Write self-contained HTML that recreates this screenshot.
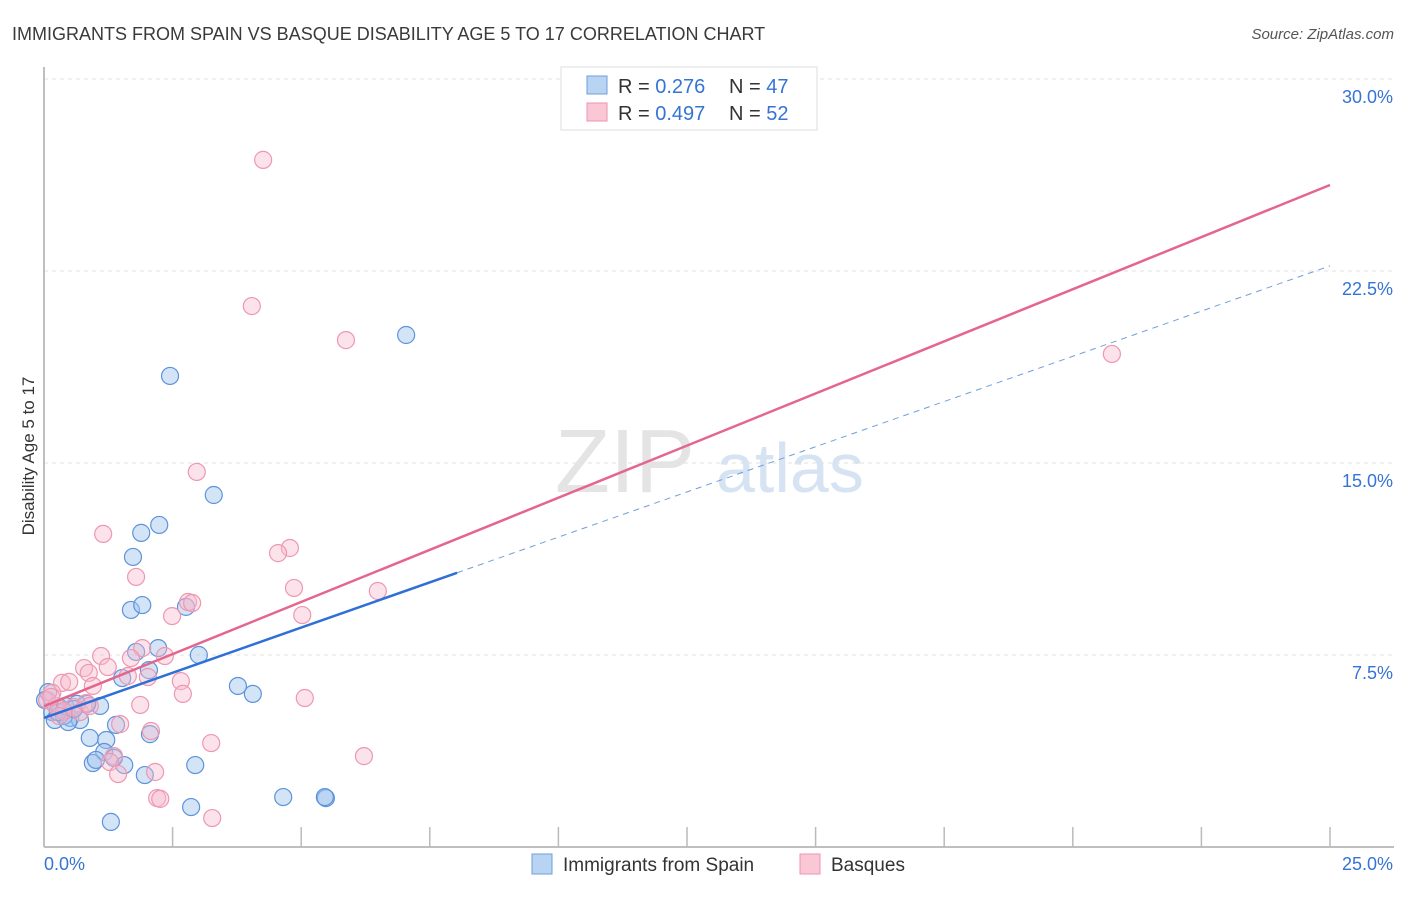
<!DOCTYPE html>
<html><head><meta charset="utf-8"><style>
body{margin:0;background:#fff;font-family:"Liberation Sans",sans-serif}
svg text{font-family:"Liberation Sans",sans-serif}
</style></head><body>
<svg id="chart" width="1406" height="892">
<text x="12" y="40" font-size="18" fill="#3a3a3a">IMMIGRANTS FROM SPAIN VS BASQUE DISABILITY AGE 5 TO 17 CORRELATION CHART</text>
<text x="1394" y="39" font-size="15" fill="#555" text-anchor="end" font-style="italic">Source: ZipAtlas.com</text>
<text x="34" y="456" font-size="17" fill="#333" text-anchor="middle" transform="rotate(-90 34 456)">Disability Age 5 to 17</text>
<g><text x="555" y="492" font-size="90" fill="#e4e4e4" font-family="Liberation Serif,serif">ZIP</text><text x="716" y="492" font-size="70" fill="#d6e3f3">atlas</text></g>
<g id="grid"></g><g id="axes"></g><g id="marks"></g><g id="lines"></g>
<g>
<rect x="561" y="67" width="256" height="63" fill="#fff" stroke="#ddd"/>
<rect x="587" y="76" width="20" height="18" fill="#b9d3f3" stroke="#6f9fdc"/>
<text x="618" y="93" font-size="20" fill="#333">R = <tspan fill="#3574d4">0.276</tspan></text>
<text x="729" y="93" font-size="20" fill="#333">N = <tspan fill="#3574d4">47</tspan></text>
<rect x="587" y="103" width="20" height="18" fill="#f9c7d5" stroke="#eb95ae"/>
<text x="618" y="120" font-size="20" fill="#333">R = <tspan fill="#3574d4">0.497</tspan></text>
<text x="729" y="120" font-size="20" fill="#333">N = <tspan fill="#3574d4">52</tspan></text>
</g>
<g>
<rect x="532" y="854" width="20" height="20" fill="#b9d3f3" stroke="#6f9fdc"/>
<text x="563" y="871" font-size="19" fill="#333">Immigrants from Spain</text>
<rect x="800" y="854" width="20" height="20" fill="#f9c7d5" stroke="#eb95ae"/>
<text x="831" y="871" font-size="19" fill="#333">Basques</text>
</g>
</svg>
<script>
const yTicks=[7.5,15,22.5,30];
const yTickLabels=["7.5%","15.0%","22.5%","30.0%"];
const xTicks=[0,2.5,5,7.5,10,12.5,15,17.5,20,22.5,25];
const spainX=[7.04,2.45,3.30,2.24,1.89,1.73,1.69,1.91,2.76,2.22,1.79,3.01,2.04,1.52,3.77,4.06,1.09,0.84,0.64,0.31,0.16,0.51,0.70,0.21,0.39,0.47,1.40,2.06,0.89,1.21,1.17,1.36,0.95,1.01,1.56,2.94,1.96,4.65,5.48,2.86,1.30,0.08,0.02,0.27,0.41,0.58,5.46];
const spainY=[20.0,18.4,13.75,12.58,12.27,11.33,9.26,9.45,9.38,7.77,7.62,7.5,6.91,6.6,6.29,5.98,5.51,5.59,5.59,5.43,5.27,5.04,4.96,4.96,5.12,4.88,4.77,4.41,4.26,4.18,3.71,3.48,3.28,3.40,3.20,3.20,2.81,1.95,1.91,1.56,0.98,6.05,5.74,5.27,5.51,5.39,1.95];
const basqueX=[4.26,4.04,5.87,20.76,2.97,1.15,4.78,4.55,1.79,4.86,6.49,2.80,2.88,2.49,5.02,1.91,2.35,1.69,1.11,1.24,0.78,0.87,0.35,0.49,0.95,1.63,2.02,2.66,2.70,5.07,1.87,0.16,0.06,0.23,0.58,0.39,0.70,1.48,2.08,3.25,1.36,6.22,1.28,2.16,1.44,2.20,2.26,3.27,0.14,0.29,0.82,0.89];
const basqueY=[26.84,21.13,19.8,19.26,14.65,12.23,11.68,11.48,10.55,10.12,10.0,9.57,9.53,9.02,9.06,7.77,7.46,7.38,7.46,7.03,6.99,6.8,6.41,6.45,6.29,6.68,6.64,6.48,5.98,5.82,5.55,6.02,5.74,5.51,5.47,5.31,5.27,4.80,4.53,4.06,3.55,3.55,3.32,2.93,2.85,1.91,1.88,1.13,5.86,5.12,5.62,5.51];
const spainTrend=[5.04,22.7], spainSolidEnd=8.03;
const basqueTrend=[5.5,25.86];
const X=v=>44+v*51.44, Y=v=>847-v*25.6;
const NS="http://www.w3.org/2000/svg";
function mk(p,t,a){const e=document.createElementNS(NS,t);for(const k in a)e.setAttribute(k,a[k]);p.appendChild(e);return e;}
const grid=document.getElementById('grid'),axes=document.getElementById('axes'),marks=document.getElementById('marks'),lines=document.getElementById('lines');
const topLine=mk(grid,'line',{x1:44,x2:1394,y1:Y(30),y2:Y(30),stroke:'#ddd','stroke-dasharray':'4,4'});


yTicks.forEach((t,i)=>{
 const g=mk(grid,'line',{x1:44,x2:1394,y1:Y(t),y2:Y(t),stroke:'#e2e2e2','stroke-dasharray':'4,4'});
 
 
 const l=mk(axes,'text',{x:1393,y:Y(t)+24,'font-size':18,fill:'#3574d4','text-anchor':'end'});l.textContent=yTickLabels[i];
 
 
});
const ya=mk(axes,'line',{x1:44,x2:44,y1:67,y2:847,stroke:'#aaa','stroke-width':1.5});


const xa=mk(axes,'line',{x1:44,x2:1394,y1:847,y2:847,stroke:'#aaa','stroke-width':1.5});


xTicks.forEach(t=>{const e=mk(axes,'line',{x1:X(t),x2:X(t),y1:827,y2:847,stroke:'#bbb','stroke-width':1.5});
 
 });
const xl0=mk(axes,'text',{x:44,y:870,'font-size':18,fill:'#3574d4'});xl0.textContent='0.0%';


const xl1=mk(axes,'text',{x:1393,y:870,'font-size':18,fill:'#3574d4','text-anchor':'end'});xl1.textContent='25.0%';


spainX.forEach((v,i)=>{const c=mk(marks,'circle',{cx:X(v),cy:Y(spainY[i]),r:8.5,fill:'rgba(160,196,238,0.45)',stroke:'#5d93db','stroke-width':1.2});
 
 });
basqueX.forEach((v,i)=>{const c=mk(marks,'circle',{cx:X(v),cy:Y(basqueY[i]),r:8.5,fill:'rgba(248,186,204,0.4)',stroke:'#ee97b0','stroke-width':1.2});
 
 });
const sY=x=>spainTrend[0]+(spainTrend[1]-spainTrend[0])*x/25;
const s1=mk(lines,'line',{x1:X(0),y1:Y(sY(0)),x2:X(spainSolidEnd),y2:Y(sY(spainSolidEnd)),stroke:'#2f6fd6','stroke-width':2.5});


const s2=mk(lines,'line',{x1:X(spainSolidEnd),y1:Y(sY(spainSolidEnd)),x2:X(25),y2:Y(sY(25)),stroke:'#6f9fdc','stroke-width':1,'stroke-dasharray':'6,5'});


const b1=mk(lines,'line',{x1:X(0),y1:Y(basqueTrend[0]),x2:X(25),y2:Y(basqueTrend[1]),stroke:'#e4668f','stroke-width':2.5});


</script>
</body></html>
